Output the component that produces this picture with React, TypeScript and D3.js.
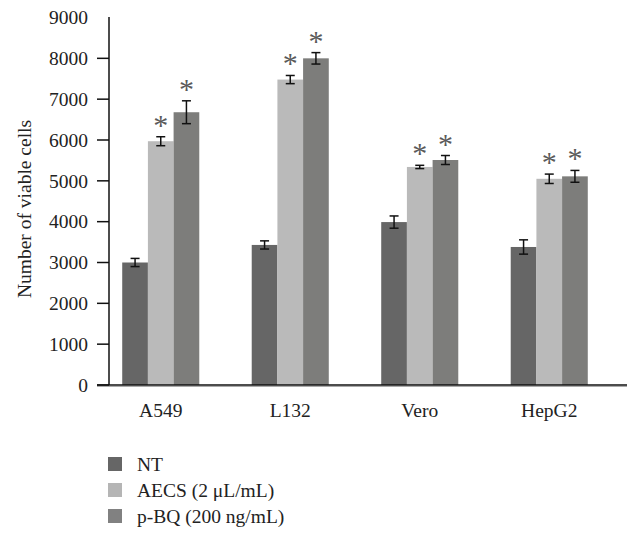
import React from "react";
import * as d3 from "d3";

const categories = ["A549", "L132", "Vero", "HepG2"];
const seriesNames = ["NT", "AECS (2 μL/mL)", "p-BQ (200 ng/mL)"];
const ntValues = [3000, 3430, 3990, 3380];
const aecsValues = [5970, 7480, 5340, 5050];
const pbqValues = [6680, 8000, 5510, 5110];
const ntErrors = [100, 100, 150, 175];
const aecsErrors = [110, 100, 40, 115];
const pbqErrors = [280, 140, 110, 145];
const aecsSignificant = [true, true, true, true];
const pbqSignificant = [true, true, true, true];
const yTicks = [0, 1000, 2000, 3000, 4000, 5000, 6000, 7000, 8000, 9000];

const colors = ["#666666", "#bababa", "#7d7d7b"];
const legendColors = ["#666666", "#b5b5b5", "#818181"];
const FONT = "'Liberation Serif', 'Times New Roman', serif";
const FS = 19.5;

export default function App() {
  const W = 628, H = 533;
  const y = d3.scaleLinear().domain([0, 9000]).range([385, 17.5]);
  const x0 = d3.scaleBand<string>().domain(categories).range([96, 614]).paddingInner(0.405).paddingOuter(0.2025);
  const x1 = d3.scaleBand<number>().domain([0, 1, 2]).range([0, x0.bandwidth()]);
  const series = [
    { vals: ntValues, errs: ntErrors, sig: null as boolean[] | null },
    { vals: aecsValues, errs: aecsErrors, sig: aecsSignificant },
    { vals: pbqValues, errs: pbqErrors, sig: pbqSignificant },
  ];
  return (
    <svg width={W} height={H} style={{ position: "absolute", left: 0, top: 0, background: "#fff" }} fontFamily={FONT}>
      {series.map((s, si) =>
        categories.map((c, ci) => {
          const bx = (x0(c) as number) + (x1(si) as number);
          const v = s.vals[ci];
          return (
            <rect key={`b${si}-${ci}`} x={bx} y={y(v)} width={x1.bandwidth()} height={y(0) - y(v)} fill={colors[si]} />
          );
        })
      )}
      {series.map((s, si) =>
        categories.map((c, ci) => {
          const cx = (x0(c) as number) + (x1(si) as number) + x1.bandwidth() / 2;
          const v = s.vals[ci];
          const e = s.errs[ci];
          const top = y(v + e), bot = y(v - e);
          return (
            <g key={`e${si}-${ci}`}>
              <line x1={cx} x2={cx} y1={top} y2={bot} stroke="#111" strokeWidth={1.5} />
              <line x1={cx - 4.5} x2={cx + 4.5} y1={top} y2={top} stroke="#111" strokeWidth={1.5} />
              <line x1={cx - 4.5} x2={cx + 4.5} y1={bot} y2={bot} stroke="#111" strokeWidth={1.5} />
              {s.sig && s.sig[ci] ? (
                <text x={cx} y={top - 2} textAnchor="middle" fontSize={30} fill="#5a5a5a">*</text>
              ) : null}
            </g>
          );
        })
      )}
      <line x1={109} x2={109} y1={17} y2={385} stroke="#111" strokeWidth={1.5} />
      {yTicks.map((t) => (
        <g key={`t${t}`}>
          {t < 9000 ? <line x1={97} x2={109} y1={y(t)} y2={y(t)} stroke="#111" strokeWidth={1.5} /> : null}
          <text x={88} y={y(t)} dy="0.35em" textAnchor="end" fontSize={FS} fill="#222">{t}</text>
        </g>
      ))}
      <line x1={97} x2={627} y1={385} y2={385} stroke="#111" strokeWidth={1.5} />
      <line x1={97} x2={627} y1={386.5} y2={386.5} stroke="#aaa" strokeWidth={1} />
      {categories.map((c) => (
        <text key={`x${c}`} x={(x0(c) as number) + x0.bandwidth() / 2} y={417} textAnchor="middle" fontSize={FS} fill="#222">{c}</text>
      ))}
      <text transform="translate(31,209) rotate(-90)" textAnchor="middle" fontSize={FS} fill="#222">Number of viable cells</text>
      {seriesNames.map((n, i) => (
        <g key={`l${i}`} transform={`translate(108, ${457 + i * 26})`}>
          <rect x={0} y={0} width={14} height={14} fill={legendColors[i]} />
          <text x={29} y={7} dy="0.35em" fontSize={FS} fill="#222">{n}</text>
        </g>
      ))}
    </svg>
  );
}
